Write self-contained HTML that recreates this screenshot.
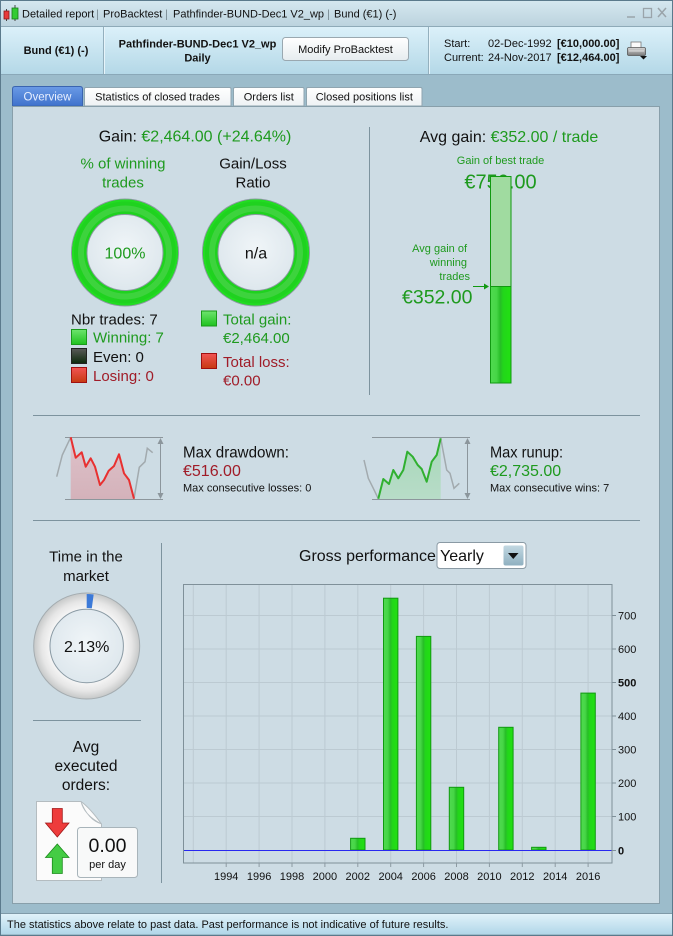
<!DOCTYPE html>
<html><head><meta charset="utf-8"><style>
html,body{margin:0;padding:0;background:#9cbccb;}
svg{display:block;font-family:"Liberation Sans",Arial,sans-serif;}
</style></head><body>
<svg width="673" height="936" viewBox="0 0 673 936" xmlns="http://www.w3.org/2000/svg">
<defs>
<linearGradient id="tb" x1="0" y1="0" x2="0" y2="1"><stop offset="0" stop-color="#d6e8f0"/><stop offset="1" stop-color="#bcd3de"/></linearGradient>
<linearGradient id="hd" x1="0" y1="0" x2="0" y2="1"><stop offset="0" stop-color="#dcf1fa"/><stop offset="1" stop-color="#b4d8e7"/></linearGradient>
<linearGradient id="st" x1="0" y1="0" x2="0" y2="1"><stop offset="0" stop-color="#e2f3fa"/><stop offset="1" stop-color="#b2d7e9"/></linearGradient>
<linearGradient id="tabB" x1="0" y1="0" x2="0" y2="1"><stop offset="0" stop-color="#6a9ae6"/><stop offset="1" stop-color="#3f72cc"/></linearGradient>
<linearGradient id="tabW" x1="0" y1="0" x2="0" y2="1"><stop offset="0" stop-color="#ffffff"/><stop offset="1" stop-color="#eef2f4"/></linearGradient>
<linearGradient id="btn" x1="0" y1="0" x2="0" y2="1"><stop offset="0" stop-color="#ffffff"/><stop offset="1" stop-color="#e6ecef"/></linearGradient>
<linearGradient id="bar" x1="0" y1="0" x2="1" y2="0"><stop offset="0" stop-color="#50da50"/><stop offset="0.3" stop-color="#46d646"/><stop offset="0.48" stop-color="#27bd27"/><stop offset="0.62" stop-color="#22d61a"/><stop offset="1" stop-color="#22e012"/></linearGradient>
<linearGradient id="sqG" x1="0" y1="0" x2="0" y2="1"><stop offset="0" stop-color="#6ee46e"/><stop offset="1" stop-color="#1fc21f"/></linearGradient>
<linearGradient id="sqK" x1="0" y1="0" x2="0" y2="1"><stop offset="0" stop-color="#5a5a5a"/><stop offset="1" stop-color="#0c2a0c"/></linearGradient>
<linearGradient id="sqR" x1="0" y1="0" x2="0" y2="1"><stop offset="0" stop-color="#f25454"/><stop offset="1" stop-color="#c63a12"/></linearGradient>
<radialGradient id="inner" cx="0.5" cy="0.45" r="0.6"><stop offset="0" stop-color="#f0f5f8"/><stop offset="1" stop-color="#dce6ec"/></radialGradient>
<radialGradient id="gring" gradientUnits="userSpaceOnUse" cx="86.7" cy="646" r="53"><stop offset="0.69" stop-color="#f6f6f6"/><stop offset="0.85" stop-color="#e6e6e6"/><stop offset="1" stop-color="#c6c8c8"/></radialGradient>
<linearGradient id="ddfill" x1="0" y1="0" x2="0" y2="1"><stop offset="0" stop-color="#dec2ca"/><stop offset="1" stop-color="#d4b2ba"/></linearGradient>
<linearGradient id="rufill" x1="0" y1="0" x2="0" y2="1"><stop offset="0" stop-color="#a6d8b8"/><stop offset="1" stop-color="#b8dcc8"/></linearGradient>
<linearGradient id="ddbtn" x1="0" y1="0" x2="0" y2="1"><stop offset="0" stop-color="#c2d8e2"/><stop offset="1" stop-color="#8fb0c0"/></linearGradient>
<linearGradient id="prn" x1="0" y1="0" x2="0" y2="1"><stop offset="0" stop-color="#d8d8d8"/><stop offset="1" stop-color="#7a7a7a"/></linearGradient>
</defs>

<!-- window -->
<rect x="0" y="0" width="673" height="936" fill="#9cbccb"/>
<rect x="0" y="0" width="673" height="26" fill="url(#tb)"/>
<!-- title icon -->
<line x1="6.5" y1="9" x2="6.5" y2="21" stroke="#444" stroke-width="1"/>
<rect x="4" y="11" width="5" height="8" fill="#e83a3a" stroke="#8a1a1a" stroke-width="0.8"/>
<line x1="15" y1="5" x2="15" y2="21" stroke="#444" stroke-width="1"/>
<rect x="12" y="8" width="6" height="11" fill="#33cc33" stroke="#1a7a1a" stroke-width="0.8"/>
<g font-size="11" fill="#111">
<text x="22" y="17.5">Detailed report</text>
<text x="96" y="17.5" fill="#7a8a92">|</text>
<text x="103" y="17.5">ProBacktest</text>
<text x="165" y="17.5" fill="#7a8a92">|</text>
<text x="173" y="17.5">Pathfinder-BUND-Dec1 V2_wp</text>
<text x="327" y="17.5" fill="#7a8a92">|</text>
<text x="334" y="17.5">Bund (€1) (-)</text>
</g>
<!-- window controls -->
<line x1="627" y1="17" x2="635" y2="17" stroke="#9aa4aa" stroke-width="1.5"/>
<rect x="643.5" y="8.5" width="8" height="9" fill="none" stroke="#9aa4aa" stroke-width="1.3"/>
<path d="M658 8 L666 17 M666 8 L658 17" stroke="#9aa4aa" stroke-width="1.5"/>

<!-- header -->
<rect x="1" y="26" width="671" height="48" fill="url(#hd)"/>
<line x1="1" y1="26.5" x2="672" y2="26.5" stroke="#8eaab8"/>
<line x1="1" y1="74.5" x2="672" y2="74.5" stroke="#8aa8b8"/>
<line x1="103.5" y1="27" x2="103.5" y2="74" stroke="#94b0be"/>
<line x1="104.5" y1="27" x2="104.5" y2="74" stroke="#e6f4fa"/>
<line x1="428.5" y1="27" x2="428.5" y2="74" stroke="#94b0be"/>
<line x1="429.5" y1="27" x2="429.5" y2="74" stroke="#e6f4fa"/>
<text x="56" y="54" font-size="11" font-weight="bold" text-anchor="middle" fill="#111">Bund (€1) (-)</text>
<text x="197.5" y="47.5" font-size="11" font-weight="bold" text-anchor="middle" fill="#111">Pathfinder-BUND-Dec1 V2_wp</text>
<text x="197.5" y="61.5" font-size="11" font-weight="bold" text-anchor="middle" fill="#111">Daily</text>
<rect x="282.5" y="37.5" width="126" height="23" rx="3" fill="url(#btn)" stroke="#9aa8b0"/>
<text x="345.5" y="53" font-size="11" text-anchor="middle" fill="#111">Modify ProBacktest</text>
<g font-size="11" fill="#111">
<text x="444" y="47">Start:</text>
<text x="488" y="47">02-Dec-1992</text>
<text x="557" y="47" font-weight="bold">[€10,000.00]</text>
<text x="444" y="61">Current:</text>
<text x="488" y="61">24-Nov-2017</text>
<text x="557" y="61" font-weight="bold">[€12,464.00]</text>
</g>
<!-- printer -->
<rect x="631" y="42" width="10" height="7" fill="#fafafa" stroke="#777" stroke-width="0.8"/>
<rect x="627.5" y="47.5" width="18" height="8" rx="1.5" fill="url(#prn)" stroke="#555" stroke-width="0.8"/>
<line x1="629" y1="51" x2="644" y2="51" stroke="#eee" stroke-width="0.8"/>
<path d="M640 56 L647 56 L643.5 59.5 Z" fill="#111"/>

<!-- outer border -->
<rect x="0.5" y="0.5" width="672" height="935" fill="none" stroke="#5b7a8c"/>

<!-- tabs -->
<path d="M12.5 106 L12.5 89 Q12.5 86.5 15 86.5 L80 86.5 Q82.5 86.5 82.5 89 L82.5 106 Z" fill="url(#tabB)" stroke="#3a64b0"/>
<text x="47.5" y="100.5" font-size="11.5" text-anchor="middle" fill="#e8f0ff">Overview</text>
<path d="M84.5 106 L84.5 89 Q84.5 87.5 86 87.5 L229.5 87.5 Q231 87.5 231 89 L231 106 Z" fill="url(#tabW)" stroke="#8fa5b0"/>
<text x="157.5" y="100.5" font-size="11" text-anchor="middle" fill="#111">Statistics of closed trades</text>
<path d="M233.5 106 L233.5 89 Q233.5 87.5 235 87.5 L302.5 87.5 Q304 87.5 304 89 L304 106 Z" fill="url(#tabW)" stroke="#8fa5b0"/>
<text x="268.8" y="100.5" font-size="11" text-anchor="middle" fill="#111">Orders list</text>
<path d="M306.5 106 L306.5 89 Q306.5 87.5 308 87.5 L420.5 87.5 Q422 87.5 422 89 L422 106 Z" fill="url(#tabW)" stroke="#8fa5b0"/>
<text x="364.3" y="100.5" font-size="11" text-anchor="middle" fill="#111">Closed positions list</text>

<!-- content panel -->
<rect x="12.5" y="106.5" width="647" height="797" fill="#cddce4" stroke="#889faa"/>

<!-- status bar -->
<rect x="1" y="913" width="671" height="21" fill="url(#st)"/>
<line x1="1" y1="913.5" x2="672" y2="913.5" stroke="#7f9aa8"/>
<text x="7" y="928" font-size="11" fill="#111">The statistics above relate to past data. Past performance is not indicative of future results.</text>

<!-- ===== Top-left section ===== -->
<text x="195" y="141.5" font-size="16" text-anchor="middle" fill="#111">Gain: <tspan fill="#1e9a1e">€2,464.00 (+24.64%)</tspan></text>
<text x="123" y="168.5" font-size="15" text-anchor="middle" fill="#1e9a1e">% of winning</text>
<text x="123" y="187.5" font-size="15" text-anchor="middle" fill="#1e9a1e">trades</text>
<text x="253" y="168.5" font-size="15" text-anchor="middle" fill="#111">Gain/Loss</text>
<text x="253" y="187.5" font-size="15" text-anchor="middle" fill="#111">Ratio</text>

<!-- donut 1 -->
<circle cx="125" cy="252.5" r="53.5" fill="#1fd21f" stroke="#8c9aa2" stroke-width="1"/>
<circle cx="125" cy="252.5" r="52" fill="none" stroke="#22dc22" stroke-width="2"/>
<circle cx="125" cy="252.5" r="44" fill="none" stroke="#56d456" stroke-width="6" opacity="0.55"/>
<circle cx="125" cy="252.5" r="38" fill="url(#inner)" stroke="#8c9aa2" stroke-width="1"/>
<text x="125" y="258.5" font-size="16" text-anchor="middle" fill="#1e9a1e">100%</text>
<!-- donut 2 -->
<circle cx="256" cy="252.5" r="53.5" fill="#1fd21f" stroke="#8c9aa2" stroke-width="1"/>
<circle cx="256" cy="252.5" r="52" fill="none" stroke="#22dc22" stroke-width="2"/>
<circle cx="256" cy="252.5" r="44" fill="none" stroke="#56d456" stroke-width="6" opacity="0.55"/>
<circle cx="256" cy="252.5" r="38" fill="url(#inner)" stroke="#8c9aa2" stroke-width="1"/>
<text x="256" y="258.5" font-size="16" text-anchor="middle" fill="#111">n/a</text>

<!-- legend -->
<text x="71" y="324.5" font-size="15" fill="#111">Nbr trades: 7</text>
<rect x="71.5" y="329.5" width="15" height="15" fill="url(#sqG)" stroke="#1a9a1a"/>
<text x="93" y="342.5" font-size="15" fill="#1e9a1e">Winning: 7</text>
<rect x="71.5" y="348.5" width="15" height="15" fill="url(#sqK)" stroke="#222"/>
<text x="93" y="362" font-size="15" fill="#111">Even: 0</text>
<rect x="71.5" y="367.5" width="15" height="15" fill="url(#sqR)" stroke="#a01010"/>
<text x="93" y="381" font-size="15" fill="#a01c28">Losing: 0</text>

<rect x="201.5" y="311" width="15" height="15" fill="url(#sqG)" stroke="#1a9a1a"/>
<text x="223" y="324.5" font-size="15" fill="#1e9a1e">Total gain:</text>
<text x="223" y="343" font-size="15" fill="#1e9a1e">€2,464.00</text>
<rect x="201.5" y="353.5" width="15" height="15" fill="url(#sqR)" stroke="#a01010"/>
<text x="223" y="367" font-size="15" fill="#a01c28">Total loss:</text>
<text x="223" y="385.5" font-size="15" fill="#a01c28">€0.00</text>

<!-- vertical divider top -->
<line x1="369.5" y1="127" x2="369.5" y2="395" stroke="#7d939e"/>

<!-- ===== Top-right section ===== -->
<text x="509" y="142" font-size="16" text-anchor="middle" fill="#111">Avg gain: <tspan fill="#1e9a1e">€352.00 / trade</tspan></text>
<text x="500.5" y="164" font-size="11" text-anchor="middle" fill="#1e9a1e">Gain of best trade</text>
<text x="500.5" y="188.5" font-size="20" text-anchor="middle" fill="#1e9a1e">€750.00</text>
<rect x="490.5" y="176.5" width="20.5" height="110" fill="#a0dba0" stroke="#119911"/>
<rect x="490.5" y="286.5" width="20.5" height="96.5" fill="url(#bar)" stroke="#119911"/>
<text x="467" y="252" font-size="11" text-anchor="end" fill="#1e9a1e">Avg gain of</text>
<text x="467" y="266" font-size="11" text-anchor="end" fill="#1e9a1e">winning</text>
<text x="470" y="280" font-size="11" text-anchor="end" fill="#1e9a1e">trades</text>
<line x1="473" y1="286.5" x2="486" y2="286.5" stroke="#119911" stroke-width="1"/>
<path d="M489 286.5 L484 283.5 L484 289.5 Z" fill="#119911"/>
<text x="472.5" y="303.5" font-size="19.5" text-anchor="end" fill="#1e9a1e">€352.00</text>

<!-- horizontal dividers -->
<line x1="33" y1="415.5" x2="640" y2="415.5" stroke="#7d939e"/>
<line x1="33" y1="520.5" x2="640" y2="520.5" stroke="#7d939e"/>

<!-- ===== Drawdown mini chart ===== -->
<path d="M70.7 437.3 L75.7 457.7 L81.7 452.3 L85.7 466.7 L90.7 458.3 L95 466.7 L100 485 L104 480 L108.7 470.7 L114 466 L119 454.3 L124 473.3 L129 480 L134 498.7 L134 499 L70.7 499 Z" fill="url(#ddfill)"/>
<line x1="65" y1="437.5" x2="163" y2="437.5" stroke="#8c969c"/>
<line x1="65" y1="499.5" x2="163" y2="499.5" stroke="#8c969c"/>
<line x1="160.5" y1="441" x2="160.5" y2="496" stroke="#8c969c"/>
<path d="M160.5 438 L157.5 444 L163.5 444 Z M160.5 499 L157.5 493 L163.5 493 Z" fill="#8c969c"/>
<polyline points="56.7,476.7 62.3,455 70.7,437.3" fill="none" stroke="#a2aaae" stroke-width="1.5"/>
<polyline points="134,498.7 139.3,467.3 145,461.7 147.3,448.3 152.7,452.7" fill="none" stroke="#a2aaae" stroke-width="1.5"/>
<polyline points="70.7,437.3 75.7,457.7 81.7,452.3 85.7,466.7 90.7,458.3 95,466.7 100,485 104,480 108.7,470.7 114,466 119,454.3 124,473.3 129,480 134,498.7" fill="none" stroke="#e83030" stroke-width="2" stroke-linejoin="round"/>
<text x="183" y="457.5" font-size="16" fill="#111" textLength="106" lengthAdjust="spacingAndGlyphs">Max drawdown:</text>
<text x="183" y="476" font-size="16" fill="#a01c28">€516.00</text>
<text x="183" y="491.5" font-size="11" fill="#111">Max consecutive losses: 0</text>

<!-- ===== Runup mini chart ===== -->
<path d="M378.3 498.7 L383.3 479 L389 484 L393.3 470 L398.3 478.3 L403.3 470 L407.3 451.7 L412.7 456.7 L417.7 465 L421.7 469 L426.7 481.7 L431.7 461.7 L436.7 455 L440.7 438.3 L440.7 499 L378.3 499 Z" fill="url(#rufill)"/>
<line x1="372" y1="437.5" x2="470" y2="437.5" stroke="#8c969c"/>
<line x1="372" y1="499.5" x2="470" y2="499.5" stroke="#8c969c"/>
<line x1="467.5" y1="441" x2="467.5" y2="496" stroke="#8c969c"/>
<path d="M467.5 438 L464.5 444 L470.5 444 Z M467.5 499 L464.5 493 L470.5 493 Z" fill="#8c969c"/>
<polyline points="364,460 368.3,478.3 373.3,488.3 378.3,498.7" fill="none" stroke="#a2aaae" stroke-width="1.5"/>
<polyline points="440.7,438.3 446.7,470 450,473.3 454,488.3 459.3,483.3" fill="none" stroke="#a2aaae" stroke-width="1.5"/>
<polyline points="378.3,498.7 383.3,479 389,484 393.3,470 398.3,478.3 403.3,470 407.3,451.7 412.7,456.7 417.7,465 421.7,469 426.7,481.7 431.7,461.7 436.7,455 440.7,438.3" fill="none" stroke="#30b030" stroke-width="2" stroke-linejoin="round"/>
<text x="490" y="457.5" font-size="16" fill="#111" textLength="73" lengthAdjust="spacingAndGlyphs">Max runup:</text>
<text x="490" y="476" font-size="16" fill="#1e9a1e">€2,735.00</text>
<text x="490" y="491.5" font-size="11" fill="#111">Max consecutive wins: 7</text>

<!-- ===== Bottom-left ===== -->
<text x="86" y="561.5" font-size="15" text-anchor="middle" fill="#111">Time in the</text>
<text x="86" y="581" font-size="15" text-anchor="middle" fill="#111">market</text>
<circle cx="86.7" cy="646" r="53" fill="url(#gring)" stroke="#a4acb0" stroke-width="1"/>
<path d="M86.7 594 A52 52 0 0 1 93.67 594.47 L91.79 608.34 A38 38 0 0 0 86.7 608 Z" fill="#3c7ad8"/>
<circle cx="86.7" cy="646" r="36.7" fill="url(#inner)" stroke="#8a9aa4" stroke-width="1"/>
<text x="86.7" y="652" font-size="16" text-anchor="middle" fill="#111">2.13%</text>
<line x1="33" y1="720.5" x2="141" y2="720.5" stroke="#7d939e"/>
<text x="86" y="752" font-size="15.5" text-anchor="middle" fill="#111">Avg</text>
<text x="86" y="771" font-size="15.5" text-anchor="middle" fill="#111">executed</text>
<text x="86" y="790" font-size="15.5" text-anchor="middle" fill="#111">orders:</text>
<!-- document icon -->
<path d="M36.5 801.5 L81 801.5 Q90 808 101.5 824 L101.5 880.5 L36.5 880.5 Z" fill="#fbfbfb" stroke="#b4bcc0"/>
<path d="M81 801.5 Q84 815 101.5 824 Q88 820 81 801.5 Z" fill="#e4e8ea" stroke="#b4bcc0" stroke-width="0.8"/>
<path d="M52.3 808.5 L62.3 808.5 L62.3 823 L69 823 L57.3 837 L45.5 823 L52.3 823 Z" fill="#ee3c3c" stroke="#a01818" stroke-width="0.8"/>
<path d="M57.3 844 L69 857.5 L62.3 857.5 L62.3 873.5 L52.3 873.5 L52.3 857.5 L45.5 857.5 Z" fill="#44cc44" stroke="#1a8a1a" stroke-width="0.8"/>
<rect x="77.5" y="827.5" width="60" height="50" rx="3" fill="#f8f9f9" stroke="#a8b4ba"/>
<text x="107.5" y="852" font-size="19.5" text-anchor="middle" fill="#111">0.00</text>
<text x="107.5" y="868" font-size="11" text-anchor="middle" fill="#111">per day</text>
<line x1="161.5" y1="543" x2="161.5" y2="883" stroke="#7d939e"/>

<!-- ===== Gross performance ===== -->
<text x="299" y="561" font-size="16" fill="#111">Gross performance</text>
<rect x="437" y="542.5" width="89" height="26" rx="3" fill="#ffffff" stroke="#8a9aa4"/>
<text x="440" y="561" font-size="16" fill="#111">Yearly</text>
<rect x="503.5" y="545.5" width="20" height="20" rx="2" fill="url(#ddbtn)"/>
<path d="M508 553 L518.5 553 L513.25 559 Z" fill="#111"/>

<!-- plot grid -->
<g stroke="#bccad2" stroke-width="1">
<line x1="183" y1="816.5" x2="612" y2="816.5"/>
<line x1="183" y1="783" x2="612" y2="783"/>
<line x1="183" y1="749.5" x2="612" y2="749.5"/>
<line x1="183" y1="716" x2="612" y2="716"/>
<line x1="183" y1="682.5" x2="612" y2="682.5"/>
<line x1="183" y1="649" x2="612" y2="649"/>
<line x1="183" y1="615.5" x2="612" y2="615.5"/>
<line x1="193.3" y1="584" x2="193.3" y2="863"/>
<line x1="226.2" y1="584" x2="226.2" y2="863"/>
<line x1="259.1" y1="584" x2="259.1" y2="863"/>
<line x1="292" y1="584" x2="292" y2="863"/>
<line x1="324.9" y1="584" x2="324.9" y2="863"/>
<line x1="357.8" y1="584" x2="357.8" y2="863"/>
<line x1="390.7" y1="584" x2="390.7" y2="863"/>
<line x1="423.6" y1="584" x2="423.6" y2="863"/>
<line x1="456.5" y1="584" x2="456.5" y2="863"/>
<line x1="489.4" y1="584" x2="489.4" y2="863"/>
<line x1="522.3" y1="584" x2="522.3" y2="863"/>
<line x1="555.2" y1="584" x2="555.2" y2="863"/>
<line x1="588.1" y1="584" x2="588.1" y2="863"/>
</g>
<!-- bars -->
<g fill="url(#bar)" stroke="#119911" stroke-width="1">
<rect x="350.6" y="838.3" width="14.4" height="11.7"/>
<rect x="383.5" y="598.2" width="14.4" height="251.8"/>
<rect x="416.4" y="636.4" width="14.4" height="213.6"/>
<rect x="449.3" y="787.3" width="14.4" height="62.7"/>
<rect x="498.7" y="727.3" width="14.4" height="122.7"/>
<rect x="531.6" y="847.3" width="14.4" height="2.7"/>
<rect x="580.9" y="693.1" width="14.4" height="156.9"/>
</g>
<line x1="183" y1="850.5" x2="612" y2="850.5" stroke="#2828f0" stroke-width="1"/>
<rect x="183.5" y="584.5" width="428.5" height="278.5" fill="none" stroke="#7f9099"/>
<!-- y ticks -->
<g stroke="#7f9099">
<line x1="612" y1="850.5" x2="616" y2="850.5"/>
<line x1="612" y1="816.5" x2="616" y2="816.5"/>
<line x1="612" y1="783" x2="616" y2="783"/>
<line x1="612" y1="749.5" x2="616" y2="749.5"/>
<line x1="612" y1="716" x2="616" y2="716"/>
<line x1="612" y1="682.5" x2="616" y2="682.5"/>
<line x1="612" y1="649" x2="616" y2="649"/>
<line x1="612" y1="615.5" x2="616" y2="615.5"/>
</g>
<g font-size="11" fill="#111">
<text x="618" y="854.5" font-weight="bold">0</text>
<text x="618" y="820.5">100</text>
<text x="618" y="787">200</text>
<text x="618" y="753.5">300</text>
<text x="618" y="720">400</text>
<text x="618" y="686.5" font-weight="bold">500</text>
<text x="618" y="653">600</text>
<text x="618" y="619.5">700</text>
</g>
<!-- x ticks -->
<g stroke="#8c9aa2">
<line x1="226.2" y1="863" x2="226.2" y2="867"/>
<line x1="259.1" y1="863" x2="259.1" y2="867"/>
<line x1="292" y1="863" x2="292" y2="867"/>
<line x1="324.9" y1="863" x2="324.9" y2="867"/>
<line x1="357.8" y1="863" x2="357.8" y2="867"/>
<line x1="390.7" y1="863" x2="390.7" y2="867"/>
<line x1="423.6" y1="863" x2="423.6" y2="867"/>
<line x1="456.5" y1="863" x2="456.5" y2="867"/>
<line x1="489.4" y1="863" x2="489.4" y2="867"/>
<line x1="522.3" y1="863" x2="522.3" y2="867"/>
<line x1="555.2" y1="863" x2="555.2" y2="867"/>
<line x1="588.1" y1="863" x2="588.1" y2="867"/>
</g>
<g font-size="11" fill="#111" text-anchor="middle">
<text x="226.2" y="880">1994</text>
<text x="259.1" y="880">1996</text>
<text x="292" y="880">1998</text>
<text x="324.9" y="880">2000</text>
<text x="357.8" y="880">2002</text>
<text x="390.7" y="880">2004</text>
<text x="423.6" y="880">2006</text>
<text x="456.5" y="880">2008</text>
<text x="489.4" y="880">2010</text>
<text x="522.3" y="880">2012</text>
<text x="555.2" y="880">2014</text>
<text x="588.1" y="880">2016</text>
</g>
</svg>
</body></html>
